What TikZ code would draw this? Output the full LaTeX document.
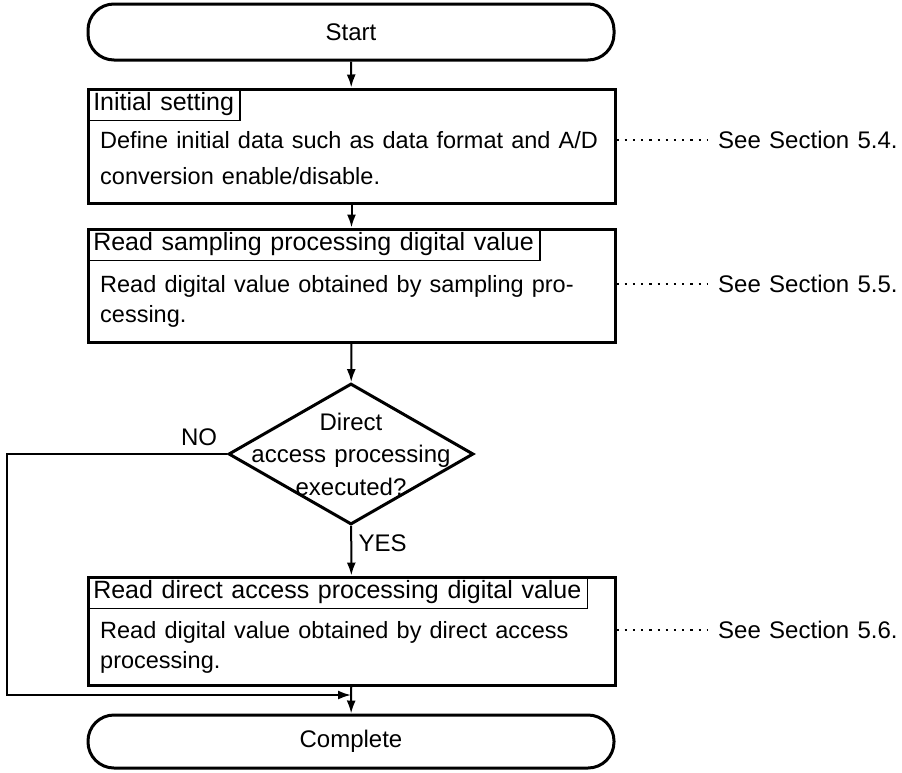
\documentclass[tikz,border=0pt]{standalone}
\usepackage{fontspec}
\setmainfont[WordSpace=1.25]{Liberation Sans}
\usetikzlibrary{arrows.meta,positioning,shapes.geometric}

\begin{document}
\begin{tikzpicture}[x=1pt,y=-1pt,
    every node/.style={font=\fontsize{24}{30}\selectfont},
    termbox/.style={draw,line width=3pt,rounded corners=26pt,minimum width=526pt,inner sep=0pt},
    procbox/.style={draw,line width=3pt,minimum width=527pt,inner sep=0pt},
    headbox/.style={draw,line width=1.5pt,anchor=north west,inner xsep=6pt,inner ysep=0pt,minimum height=32pt,
      font=\fontsize{25}{30}\selectfont},
    bodytext/.style={anchor=north west,align=left,inner sep=0pt,font=\fontsize{23.5}{30}\selectfont},
    decbox/.style={draw,diamond,line width=3pt,minimum width=245pt,minimum height=141pt,inner sep=0pt},
    refnote/.style={anchor=west,inner xsep=6pt},
    leader/.style={line width=2.4pt,dash pattern=on 2.2pt off 6pt,shorten >=4pt},
    flow/.style={line width=2pt,-{Latex[length=13pt,width=9pt]}}]
    \useasboundingbox (0,0) rectangle (902,772);
    % start / end
    \node[termbox,minimum height=56pt] (start) at (351,32) {Start};
    \node[termbox,minimum height=53pt] (done) at (351,741.5) {Complete};
    % initial setting
    \node[procbox,minimum height=114pt] (init) at (351.5,146) {};
    \node[headbox] (inithead) at (init.north west) {Initial setting};
    \node[bodytext,font=\fontsize{23.5}{36}\selectfont] (initbody) at (100,131)
      {Define initial data such as data format and A/D\\conversion enable/disable.};
    \node[refnote] (initref) at (712,140) {See Section 5.4.};
    \draw[leader] (initref.west -| init.east) -- (initref.west);
    % sampling read
    \node[procbox,minimum height=113pt] (samp) at (351.5,285.5) {};
    \node[headbox] (samphead) at (samp.north west) {Read sampling processing digital value};
    \node[bodytext] (sampbody) at (100,275)
      {Read digital value obtained by sampling pro-\\cessing.};
    \node[refnote] (sampref) at (712,284) {See Section 5.5.};
    \draw[leader] (sampref.west -| samp.east) -- (sampref.west);
    % decision
    \node[decbox,label={[align=center,font=\fontsize{24}{32.5}\selectfont]center:Direct\\access processing\\executed?}] (dec) at (351,454) {};
    \node (nolabel) at (199,437) {NO};
    % direct access read
    \node[procbox,minimum height=108pt] (direct) at (351.5,631) {};
    \node[headbox] (directhead) at (direct.north west) {Read direct access processing digital value};
    \node[bodytext] (directbody) at (100,621)
      {Read digital value obtained by direct access\\processing.};
    \node[refnote] (directref) at (712,630) {See Section 5.6.};
    \draw[leader] (directref.west -| direct.east) -- (directref.west);
    % connectors
    \coordinate (join) at (351,695);
    \draw[flow] (start) -- (init);
    \draw[flow] (init) -- (samp);
    \draw[flow] (samp) -- (dec);
    \draw[flow] (dec) -- node[right=3pt,pos=0.35] (yeslabel) {YES} (direct);
    \draw[flow] (direct) -- (done);
    \draw[flow] (dec.west) -- ++(-220,0) |- (join);
  \end{tikzpicture}
\end{document}
